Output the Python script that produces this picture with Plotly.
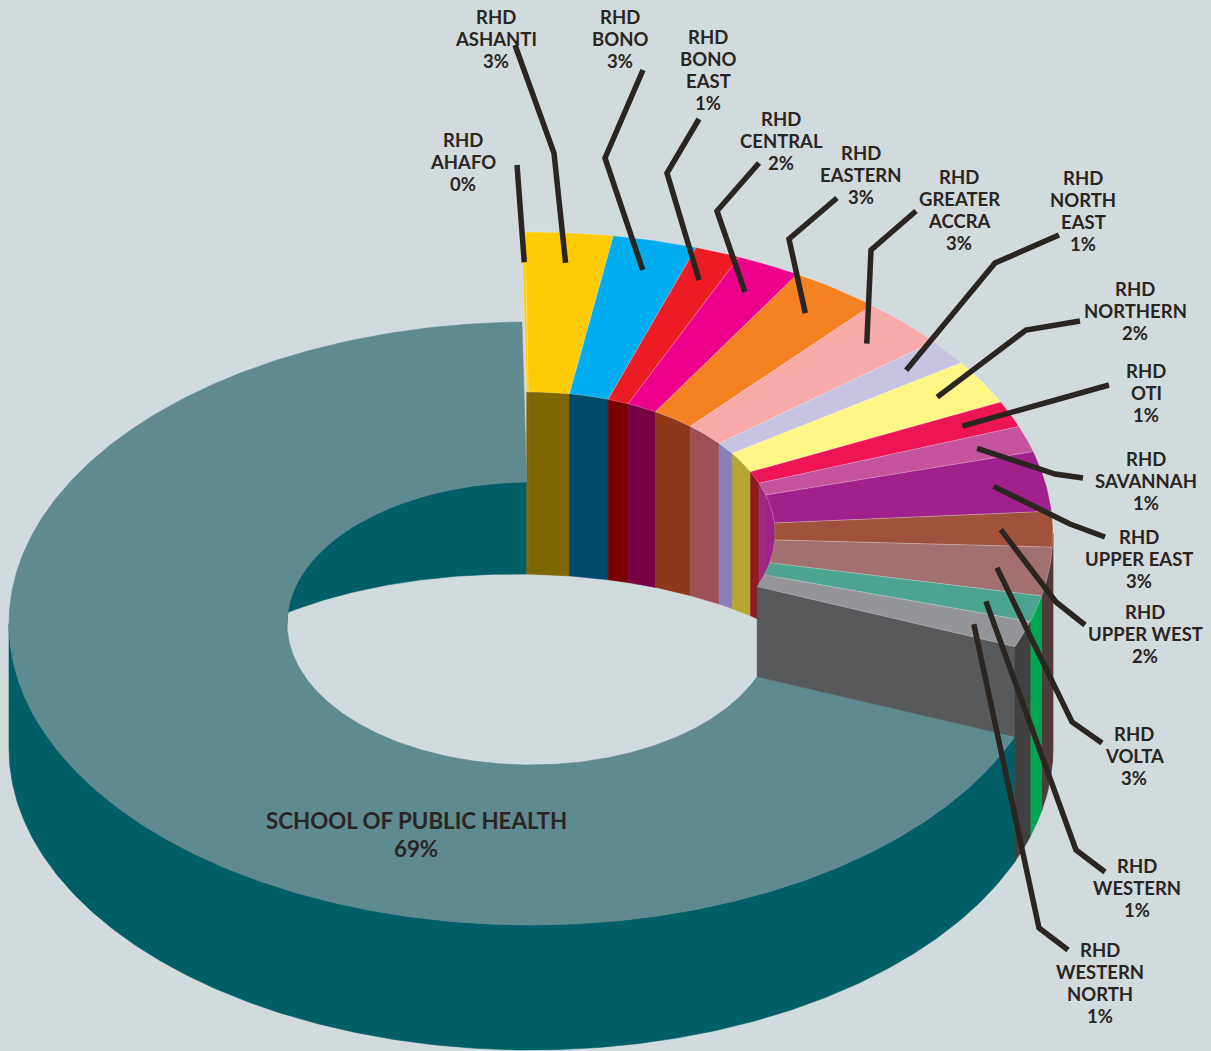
import numpy as np
import plotly.graph_objects as go

# Share of the total per unit, in percent (printed labels are these values rounded)
regions = ["RHD AHAFO", "RHD ASHANTI", "RHD BONO", "RHD BONO EAST", "RHD CENTRAL", "RHD EASTERN",
           "RHD GREATER ACCRA", "RHD NORTH EAST", "RHD NORTHERN", "RHD OTI", "RHD SAVANNAH",
           "RHD UPPER EAST", "RHD UPPER WEST", "RHD VOLTA", "RHD WESTERN", "RHD WESTERN NORTH"]
region_shares = [0.1, 2.7, 2.6, 1.4, 2.0, 2.8, 2.7, 1.4, 2.4, 1.4, 1.4, 3.2, 1.9, 2.6, 1.4, 1.4]
school_name = "SCHOOL OF PUBLIC HEALTH"
school_share = 68.6

# Label line breaks
label_lines = [["RHD", "AHAFO"], ["RHD", "ASHANTI"], ["RHD", "BONO"], ["RHD", "BONO", "EAST"],
               ["RHD", "CENTRAL"], ["RHD", "EASTERN"], ["RHD", "GREATER", "ACCRA"],
               ["RHD", "NORTH", "EAST"], ["RHD", "NORTHERN"], ["RHD", "OTI"], ["RHD", "SAVANNAH"],
               ["RHD", "UPPER EAST"], ["RHD", "UPPER WEST"], ["RHD", "VOLTA"], ["RHD", "WESTERN"],
               ["RHD", "WESTERN", "NORTH"]]

# Face colours per region: top, inner wall, outer wall
top_colors = ["#FFCB05", "#FFCB05", "#00AEEF", "#ED1C24", "#EC008C", "#F58220", "#F9ABAB", "#C7C4E2",
              "#FFF685", "#ED1556", "#C6539D", "#A0218C", "#A0523D", "#A27071", "#4BA390", "#939598"]
inner_colors = ["#7F6600", "#7F6600", "#004B6B", "#7A0000", "#7A0045", "#8F3719", "#A04F57", "#8980BA",
                "#B7A632", "#8F1A20", "#9E2A7A", "#A0218C", "#7A3020", "#6E4A4A", "#2F7A6A", "#58595B"]
outer_colors = ["#7F6600", "#7F6600", "#004B6B", "#7A0000", "#7A0045", "#8F3719", "#A04F57", "#8980BA",
                "#B7A632", "#8F1A20", "#9E2A7A", "#7A1A6F", "#5B1E06", "#4F3B3B", "#00A651", "#404040"]
BG = "#D1DADD"
SCHOOL_TOP = "#5F8A90"
SCHOOL_WALL = "#005F66"
END_WALL = "#58595B"
LEADER = "#2B2522"
TEXT = "#2B2522"

# Label centres and leader elbows/ends in canvas units
label_xy = [(463, 162), (496, 39), (620, 39), (708, 70), (781, 141), (861, 175), (959, 210), (1083, 211),
            (1135, 311), (1146, 393), (1146, 481), (1139, 559), (1145, 634), (1134, 756), (1137, 888), (1100, 983)]
leader_path = [[(517, 165)], [(554, 153), (515, 45)], [(605, 158), (643, 70)], [(667, 173), (699, 119)],
               [(717, 211), (759, 163)], [(789, 239), (837, 198)], [(871, 250), (916, 211)],
               [(995, 263), (1059, 235)], [(1026, 330), (1080, 321)], [(1036, 405), (1109, 385)],
               [(1055, 474), (1083, 478)], [(1070, 524), (1105, 537)], [(1056, 602), (1085, 625)],
               [(1072, 722), (1102, 743)], [(1076, 850), (1105, 872)], [(1039, 928), (1068, 950)]]
LINE_STEP = 21.8

# Projection of the ring
CX, RX_OUT, RX_IN = 531.0, 522.0, 244.0
RY_OUT, RY_IN = 301.5, 141.5
Y_SCHOOL, Y_REGION, Y_BASE = 623.5, 533.5, 748.5
START = -1.0  # degrees clockwise from 12 o'clock


def point(angle, rx, ry, cy):
    a = np.radians(angle)
    return CX + rx * np.sin(a), cy - ry * np.cos(a)


def arc(a0, a1, rx, ry, cy):
    n = max(2, int(abs(a1 - a0) * 2) + 2)
    return point(np.linspace(a0, a1, n), rx, ry, cy)


def hole_edge(x):
    # Far rim of the opening, where the inner wall stops
    return 724.0 - 150.0 * np.sqrt(np.clip(1 - ((x - 515.0) / 340.0) ** 2, 0, 1))


def poly(fig, xs, ys, color, line=None, width=0.6):
    fig.add_trace(go.Scatter(x=np.append(xs, xs[0]), y=np.append(ys, ys[0]), mode="lines", fill="toself",
                             fillcolor=color, line=dict(color=line or color, width=width),
                             hoverinfo="skip", showlegend=False))


def ring_face(fig, a0, a1, cy, color, line=None):
    xo, yo = arc(a0, a1, RX_OUT, RY_OUT, cy)
    xi, yi = arc(a1, a0, RX_IN, RY_IN, cy)
    poly(fig, np.r_[xo, xi], np.r_[yo, yi], color, line)


def outer_wall(fig, a0, a1, cy_top, color):
    xt, yt = arc(a0, a1, RX_OUT, RY_OUT, cy_top)
    xb, yb = arc(a1, a0, RX_OUT, RY_OUT, Y_BASE)
    poly(fig, np.r_[xt, xb], np.r_[yt, yb], color)


def inner_wall(fig, a0, a1, cy_top, color):
    xt, yt = arc(a0, a1, RX_IN, RY_IN, cy_top)
    xb = xt[::-1]
    yb = hole_edge(xb)
    poly(fig, np.r_[xt, xb], np.r_[yt, np.maximum(yb, yt[::-1])], color)


total = school_share + sum(region_shares)
sweep = [360.0 * v / total for v in region_shares]
edges = START + np.r_[0.0, np.cumsum(sweep)]
school_start = edges[-1]
school_end = START + 360.0

fig = go.Figure()

# Inner walls seen through the opening
inner_wall(fig, school_end - 89.0, school_end, Y_SCHOOL, SCHOOL_WALL)
for i in range(len(regions)):
    a0, a1 = edges[i], min(edges[i + 1], 90.0)
    if a1 > a0:
        inner_wall(fig, a0, a1, Y_REGION, inner_colors[i])

# Lower ring: school segment
outer_wall(fig, school_start, 270.0, Y_SCHOOL, SCHOOL_WALL)
ring_face(fig, school_start, school_end, Y_SCHOOL, SCHOOL_TOP)

# Cut face where the raised regional segments end
xa, ya = point(school_start, RX_IN, RY_IN, Y_REGION)
xb, yb = point(school_start, RX_OUT, RY_OUT, Y_REGION)
lift = Y_SCHOOL - Y_REGION
poly(fig, np.array([xa, xb, xb, xa]), np.array([ya, yb, yb + lift, ya + lift]), END_WALL)

# Raised ring: outer walls then top faces
for i in range(len(regions)):
    a0, a1 = max(edges[i], 90.0), edges[i + 1]
    if a1 > a0:
        outer_wall(fig, a0, a1, Y_REGION, outer_colors[i])
for i in range(len(regions)):
    ring_face(fig, edges[i], edges[i + 1], Y_REGION, top_colors[i], "rgba(255,255,255,0.35)")

# Leader lines run from a point on each slice out to its label; each label line is placed on its own
annotations = []
for i, v in enumerate(region_shares):
    mid = 0.5 * (edges[i] + edges[i + 1])
    tip_x, tip_y = point(mid, RX_OUT * 0.9, RY_OUT * 0.9, Y_REGION)
    xs = [tip_x] + [p[0] for p in leader_path[i]]
    ys = [tip_y] + [p[1] for p in leader_path[i]]
    fig.add_trace(go.Scatter(x=xs, y=ys, mode="lines", line=dict(color=LEADER, width=5.5),
                             hoverinfo="skip", showlegend=False))
    rows = label_lines[i] + [f"{v:.0f}%"]
    first = label_xy[i][1] - LINE_STEP * (len(rows) - 1) / 2
    for r, row in enumerate(rows):
        annotations.append(dict(x=label_xy[i][0], y=first + r * LINE_STEP, text=row, showarrow=False,
                                xanchor="center", yanchor="middle", align="center",
                                font=dict(family="Lato", size=18.5, color=TEXT, weight=700)))

for row, y in ((school_name, 820), (f"{school_share:.0f}%", 848)):
    annotations.append(dict(x=416, y=y, text=row, showarrow=False, xanchor="center", yanchor="middle",
                            font=dict(family="Lato", size=22.3, color=TEXT, weight=700)))

fig.update_layout(width=1211, height=1051, autosize=False, margin=dict(l=0, r=0, t=0, b=0),
                  paper_bgcolor=BG, plot_bgcolor=BG, showlegend=False, annotations=annotations,
                  xaxis=dict(range=[0, 1211], visible=False, fixedrange=True),
                  yaxis=dict(range=[1051, 0], visible=False, fixedrange=True))

fig.write_html("out.html", config=dict(displayModeBar=False))
